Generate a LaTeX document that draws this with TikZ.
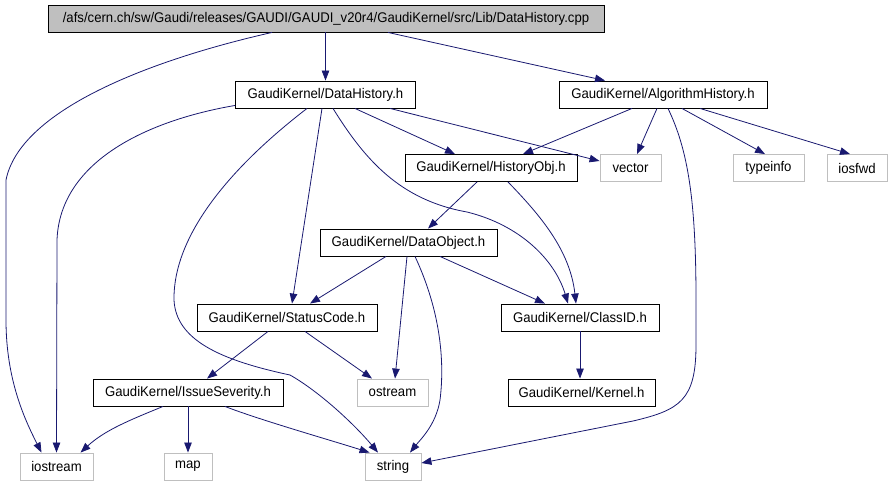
\documentclass[tikz,border=0pt]{standalone}
\usepackage{fontspec}
\setmainfont{Liberation Sans}[FakeStretch=0.94]
\usetikzlibrary{arrows.meta,calc}
\definecolor{edgeblue}{RGB}{25,25,112}
\definecolor{graybd}{RGB}{191,191,191}
\tikzset{
  box/.style={draw=black,line width=0.9pt,minimum height=27pt,inner sep=0pt,font=\fontsize{14}{16}\selectfont},
  sysbox/.style={box,draw=graybd},
  rootbox/.style={box,fill=graybd},
  e/.style={draw=edgeblue,line width=0.8pt,-{Triangle[length=10pt,width=7.5pt]}},
}
\begin{document}
\begin{tikzpicture}[x=1pt,y=-1pt]
\useasboundingbox (0,0) rectangle (890,485);
% nodes
\node[rootbox,minimum width=556pt] (cpp) at (326,18.5) {/afs/cern.ch/sw/Gaudi/releases/GAUDI/GAUDI\_v20r4/GaudiKernel/src/Lib/DataHistory.cpp};
\node[box,minimum width=180pt] (dh) at (325.5,94.5) {GaudiKernel/DataHistory.h};
\node[box,minimum width=208pt] (ah) at (663,94.5) {GaudiKernel/AlgorithmHistory.h};
\node[box,minimum width=172pt] (ho) at (491,168) {GaudiKernel/HistoryObj.h};
\node[sysbox,minimum width=61pt] (vec) at (630.5,168) {vector};
\node[sysbox,minimum width=71pt] (ti) at (768.5,168) {typeinfo};
\node[sysbox,minimum width=60pt] (iosfwd) at (857,168) {iosfwd};
\node[box,minimum width=177pt] (dobj) at (408.5,242.5) {GaudiKernel/DataObject.h};
\node[box,minimum width=180pt] (sc) at (287,317.5) {GaudiKernel/StatusCode.h};
\node[box,minimum width=158pt] (cid) at (580,317.5) {GaudiKernel/ClassID.h};
\node[box,minimum width=190pt] (is) at (188,392.5) {GaudiKernel/IssueSeverity.h};
\node[sysbox,minimum width=71pt] (os) at (392.5,392.5) {ostream};
\node[box,minimum width=147pt] (ker) at (581.5,392.5) {GaudiKernel/Kernel.h};
\node[sysbox,minimum width=73pt] (ios) at (56.5,466.5) {iostream};
\node[sysbox,minimum width=48pt] (map) at (188,466.5) {map};
\node[sysbox,minimum width=56pt] (str) at (393,466.5) {string};
% edges
\draw[e] ([xshift=-54pt]cpp.south) .. controls (150,60) and (20,110) .. (6,180) -- (6,320) .. controls (6,380) and (25,420) .. ([xshift=-15pt]ios.north);
\draw[e] (dh.north |- cpp.south) -- (dh.north);
\draw[e] ([xshift=62pt]cpp.south) -- ([xshift=-58pt]ah.north);
\draw[e] ([yshift=3pt]dh.south west) .. controls (150,120) and (60,160) .. (57,240) -- (ios.north);
\draw[e] ([xshift=-18.5pt]dh.south) .. controls (240,160) and (173,230) .. (174,300) .. controls (176,340) and (220,360) .. (290,375) .. controls (320,392) and (355,425) .. ([xshift=-15pt]str.north);
\draw[e] ([xshift=-3.5pt]dh.south) -- ([xshift=5pt]sc.north);
\draw[e] ([xshift=7.5pt]dh.south) .. controls (365,160) and (400,200) .. (467,212) .. controls (520,225) and (555,260) .. ([xshift=-12pt]cid.north);
\draw[e] ([xshift=29.5pt]dh.south) -- ([xshift=-36pt]ho.north);
\draw[e] ([xshift=64.5pt]dh.south) -- ([yshift=7pt]vec.west);
\draw[e] ([xshift=-31pt]ah.south) -- ([xshift=32pt]ho.north);
\draw[e] ([xshift=-6pt]ah.south) -- ([xshift=6.5pt]vec.north);
\draw[e] ([xshift=5pt]ah.south) .. controls (688,150) and (696,200) .. (696,300) -- (696,345) .. controls (696,400) and (680,410) .. (633,421) -- ([yshift=3.5pt]str.east);
\draw[e] ([xshift=19pt]ah.south) -- ([xshift=-3.5pt]ti.north);
\draw[e] ([xshift=37pt]ah.south) -- ([xshift=-7pt]iosfwd.north);
\draw[e] ([xshift=-14pt]ho.south) -- ([xshift=19.5pt]dobj.north);
\draw[e] ([xshift=17pt]ho.south) .. controls (540,215) and (570,250) .. ([xshift=-4pt]cid.north);
\draw[e] ([xshift=-22.5pt]dobj.south) -- ([xshift=23pt]sc.north);
\draw[e] ([xshift=-1.5pt]dobj.south) -- ([xshift=2.5pt]os.north);
\draw[e] ([xshift=6.5pt]dobj.south) .. controls (440,310) and (445,360) .. (440,400) .. controls (436,425) and (420,440) .. ([xshift=17pt]str.north);
\draw[e] ([xshift=31.5pt]dobj.south) -- ([xshift=-35pt]cid.north);
\draw[e] ([xshift=-19pt]sc.south) -- ([xshift=19pt]is.north);
\draw[e] ([xshift=18pt]sc.south) -- ([xshift=-20.5pt]os.north);
\draw[e] (cid.south) -- (cid.south |- ker.north);
\draw[e] ([xshift=-25pt]is.south) .. controls (130,420) and (105,430) .. ([xshift=24pt]ios.north);
\draw[e] (is.south) -- (map.north);
\draw[e] ([xshift=37pt]is.south) .. controls (260,420) and (330,440) .. ([xshift=5pt]str.north west);
\end{tikzpicture}
\end{document}
